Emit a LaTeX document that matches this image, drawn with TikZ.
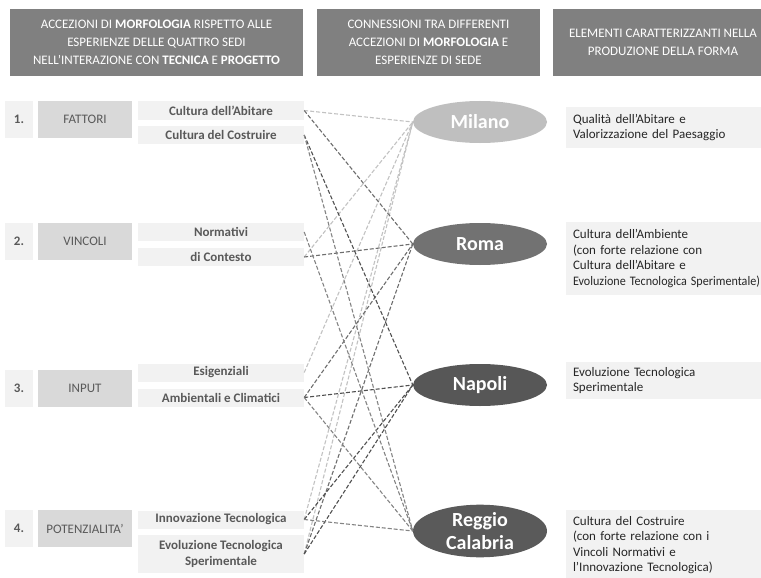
\documentclass[tikz,border=0pt]{standalone}
\usepackage{fontspec}
\usepackage{graphicx}
\setmainfont{Carlito}
\usetikzlibrary{shapes.geometric}
\definecolor{hdr}{HTML}{808080}
\definecolor{pale}{HTML}{F2F2F2}
\definecolor{catg}{HTML}{D9D9D9}
\definecolor{txtg}{HTML}{595959}
\definecolor{cmil}{HTML}{BFBFBF}
\definecolor{crom}{HTML}{727272}
\definecolor{cnap}{HTML}{575757}
\definecolor{creg}{HTML}{5A5A5A}
\definecolor{lmil}{HTML}{C2C2C2}
\definecolor{lrom}{HTML}{6E6E6E}
\definecolor{lnap}{HTML}{505050}
\definecolor{lreg}{HTML}{848484}
\begin{document}
\begin{tikzpicture}[x=1pt,y=-1pt,
 hdrbox/.style={fill=hdr, text=white, inner sep=0pt, align=center, minimum height=67pt, font=\fontsize{13}{18}\selectfont},
 numbox/.style={fill=pale, minimum width=28pt, minimum height=37pt, inner sep=0pt, text=txtg, font=\fontsize{13}{15}\selectfont\bfseries},
 catbox/.style={fill=catg, minimum width=94pt, minimum height=37pt, inner sep=0pt, text=txtg, font=\fontsize{13}{15}\selectfont},
 subbox/.style={fill=pale, minimum width=166pt, minimum height=18pt, inner sep=0pt, text=txtg, align=center, font=\fontsize{13}{15.5}\selectfont\bfseries},
 city/.style={ellipse, minimum width=134pt, minimum height=42pt, inner sep=0pt, text=white, align=center, font=\fontsize{20}{24}\selectfont\bfseries},
 elembox/.style={fill=pale, text width=195pt, inner xsep=7pt, inner ysep=0pt, align=left, text=black!85, font=\fontsize{13}{15.5}\selectfont},
 link/.style={dash pattern=on 4pt off 2pt, line width=1.1pt}
]
\useasboundingbox (0,0) rectangle (761,578);
\fill[white] (0,0) rectangle (761,578);

% headers
\node[hdrbox, minimum width=293pt] (h1) at (156.5,42.5) {ACCEZIONI DI \textbf{MORFOLOGIA} RISPETTO ALLE\\ESPERIENZE DELLE QUATTRO SEDI\\NELL’INTERAZIONE CON \textbf{TECNICA} E \textbf{PROGETTO}};
\node[hdrbox, minimum width=223pt] (h2) at (428.5,42.5) {CONNESSIONI TRA DIFFERENTI\\ACCEZIONI DI \textbf{MORFOLOGIA} E\\ESPERIENZE DI SEDE};
\node[hdrbox, minimum width=220pt] (h3) at (663,42.5) {ELEMENTI CARATTERIZZANTI NELLA\\PRODUZIONE DELLA FORMA};

% left column
\node[numbox] (n1) at (19,119.5) {1.};
\node[catbox] (k1) at (85,119.5) {FATTORI};
\node[subbox] (A1) at (221,110.5) {Cultura dell’Abitare};
\node[subbox] (A2) at (221,135) {Cultura del Costruire};

\node[numbox] (n2) at (19,241) {2.};
\node[catbox] (k2) at (85,241) {VINCOLI};
\node[subbox] (B1) at (221,232) {Normativi};
\node[subbox] (B2) at (221,257) {di Contesto};

\node[numbox] (n3) at (19,388) {3.};
\node[catbox] (k3) at (85,388) {INPUT};
\node[subbox] (C1) at (221,372.5) {Esigenziali};
\node[subbox] (C2) at (221,397.5) {Ambientali e Climatici};

\node[numbox] (n4) at (19,528.5) {4.};
\node[catbox] (k4) at (85,528.5) {POTENZIALITA’};
\node[subbox] (D1) at (221,519.5) {Innovazione Tecnologica};
\node[subbox, minimum height=38pt] (D2) at (221,554) {Evoluzione Tecnologica\\Sperimentale};

% cities
\node[city, fill=cmil] (M) at (480,122) {Milano};
\node[city, fill=crom] (R) at (480,244) {Roma};
\node[city, fill=cnap] (N) at (480,385) {Napoli};
\node[city, fill=creg] (G) at (480,531) {Reggio\\[-1pt]Calabria};

% right column
\node[elembox, minimum height=41pt] (e1) at (670.5,127.5) {Qualità dell’Abitare e\\Valorizzazione del Paesaggio};
\node[elembox, minimum height=73pt] (e2) at (670.5,258.5) {Cultura dell’Ambiente\\(con forte relazione con\\Cultura dell’Abitare e\\\resizebox{187pt}{\height}{Evoluzione Tecnologica Sperimentale)}};
\node[elembox, minimum height=37pt] (e3) at (670.5,380.5) {Evoluzione Tecnologica\\Sperimentale};
\node[elembox, minimum height=70pt] (e4) at (670.5,545) {Cultura del Costruire\\(con forte relazione con i\\Vincoli Normativi e\\l’Innovazione Tecnologica)};

% connectors
\foreach \s in {A1,B2,C1,D1,D2} \draw[link, lmil] (\s.east) -- (M.west);
\foreach \s in {A1,B2,C2,D2} \draw[link, lrom] (\s.east) -- (R.west);
\foreach \s in {A2,C2,D1,D2} \draw[link, lnap] (\s.east) -- (N.west);
\foreach \s in {A2,B1,C2,D1} \draw[link, lreg] (\s.east) -- (G.west);
\end{tikzpicture}
\end{document}
